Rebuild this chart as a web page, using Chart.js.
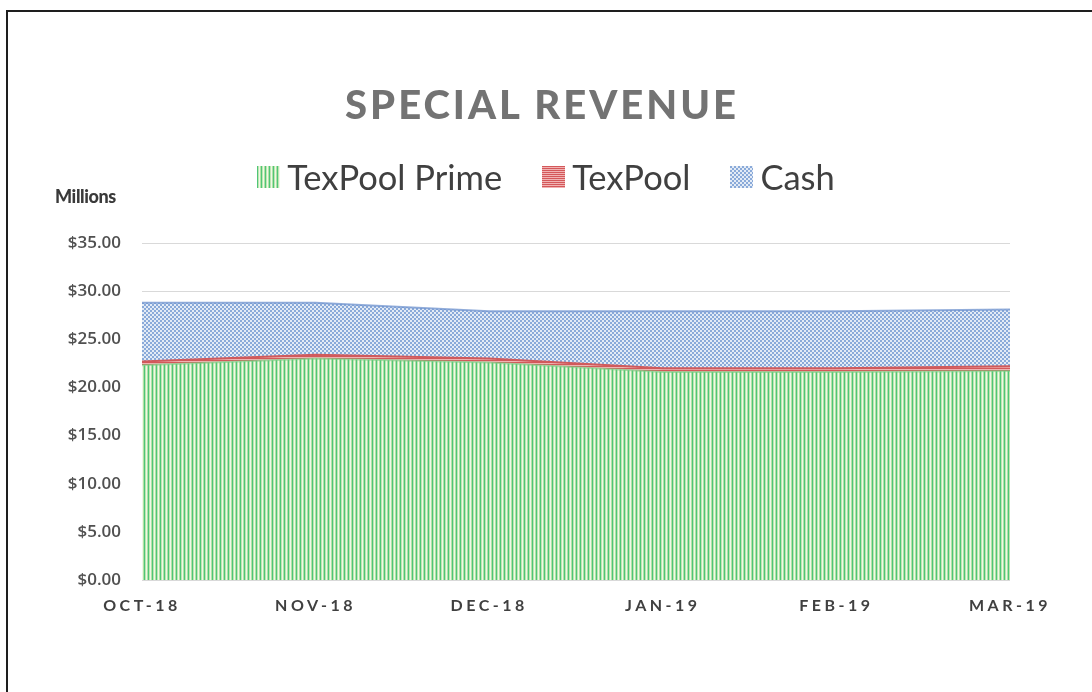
<!DOCTYPE html>
<html>
<head>
<meta charset="utf-8">
<script src="https://cdn.jsdelivr.net/npm/chart.js@4.4.1/dist/chart.umd.min.js"></script>
<style>
  html, body { margin: 0; padding: 0; background: #fff; }
  #wrap { position: relative; width: 1092px; height: 692px; overflow: hidden; font-family: Lato, "Open Sans", sans-serif; }
  #frame { position: absolute; left: 6px; top: 10px; width: 1200px; height: 800px; border-top: 2px solid #1e1e1e; border-left: 2px solid #1e1e1e; }
  #chart { position: absolute; left: 0; top: 0; }
  #title { position: absolute; left: 0; width: 1084px; top: 80px; text-align: center; font-weight: 900; font-size: 40px; letter-spacing: 3px; color: #737373; }
  #legend { position: absolute; left: 0; width: 1092px; top: 156px; display: flex; justify-content: center; align-items: center; font-size: 34.5px; color: #404040; }
  .legend-item { display: flex; align-items: center; margin: 0 20px; }
  .legend-swatch { width: 23px; height: 22px; margin-right: 7px; }
  #units { position: absolute; left: 55px; top: 185px; font-weight: 900; font-size: 18px; letter-spacing: -0.4px; color: #3a3a3a; }
</style>
</head>
<body>
<div id="wrap">
  <div id="frame"></div>
  <canvas id="chart" width="1092" height="692"></canvas>
  <div id="title">SPECIAL REVENUE</div>
  <div id="legend"></div>
  <div id="units">Millions</div>
</div>
<script>
const MONTHS = ["OCT-18", "NOV-18", "DEC-18", "JAN-19", "FEB-19", "MAR-19"];
const TEXPOOL_PRIME = [22.3, 23.0, 22.6, 21.6, 21.6, 21.7];
const TEXPOOL = [0.4, 0.4, 0.4, 0.4, 0.4, 0.5];
const CASH = [6.1, 5.4, 4.9, 5.9, 5.9, 5.9];
const Y_TICKS = [0, 5, 10, 15, 20, 25, 30, 35];

// --- hatch patterns (Excel-like fills) ---
function makePattern(w, h, paint) {
  const c = document.createElement("canvas");
  c.width = w; c.height = h;
  paint(c.getContext("2d"));
  return c;
}

const greenTile = makePattern(4, 4, g => {
  const cols = ["#4fc578", "#bfe6b0", "#eef8e8", "#b2e2a5"];
  cols.forEach((col, i) => { g.fillStyle = col; g.fillRect(i, 0, 1, 4); });
});
const redTile = makePattern(2, 2, g => {
  g.fillStyle = "#d4585a"; g.fillRect(0, 0, 2, 1);
  g.fillStyle = "#f1b3b3"; g.fillRect(0, 1, 2, 1);
});
const blueTile = makePattern(4, 4, g => {
  g.fillStyle = "#e3ebf6"; g.fillRect(0, 0, 4, 4);
  g.fillStyle = "#8aaad9"; g.fillRect(0, 0, 2, 2); g.fillRect(2, 2, 2, 2);
});

const ctx = document.getElementById("chart").getContext("2d");
const fills = [greenTile, redTile, blueTile].map(t => ctx.createPattern(t, "repeat"));

const SERIES = [
  { label: "TexPool Prime", data: TEXPOOL_PRIME, tile: greenTile, fill: fills[0], border: "rgba(120,205,130,0.6)", fillTo: "origin" },
  { label: "TexPool", data: TEXPOOL, tile: redTile, fill: fills[1], border: "#d05a5c", fillTo: "-1" },
  { label: "Cash", data: CASH, tile: blueTile, fill: fills[2], border: "rgba(110,145,205,0.75)", fillTo: "-1" }
];

// HTML legend with the same tiles
document.getElementById("legend").innerHTML = SERIES.map(s =>
  `<div class="legend-item"><div class="legend-swatch" style="background-image:url(${s.tile.toDataURL()})"></div><span>${s.label}</span></div>`
).join("");

// x labels in the reference are spaced out
const spacedXLabels = {
  id: "spacedXLabels",
  beforeDraw(chart) {
    const x = chart.scales.x;
    if (x._spaced) return;
    const orig = x.drawLabels;
    x.drawLabels = function (area) {
      this.ctx.save();
      this.ctx.letterSpacing = "3.5px";
      orig.call(this, area);
      this.ctx.restore();
    };
    x._spaced = true;
  }
};

new Chart(ctx, {
  type: "line",
  data: {
    labels: MONTHS,
    datasets: SERIES.map(s => ({
      label: s.label,
      data: s.data,
      backgroundColor: s.fill,
      borderColor: s.border,
      borderWidth: 2,
      fill: s.fillTo,
      pointRadius: 0,
      tension: 0
    }))
  },
  options: {
    responsive: false,
    animation: false,
    layout: { padding: { top: 243, right: 82, bottom: 72, left: 0 } },
    plugins: { legend: { display: false }, tooltip: { enabled: false } },
    scales: {
      x: {
        offset: false,
        grid: { display: false, drawTicks: false },
        border: { display: false },
        ticks: { color: "#404040", padding: 16, font: { family: "Lato", size: 16, weight: "bold" }, maxRotation: 0 },
        afterFit: s => { s.height = 40; }
      },
      y: {
        stacked: true,
        min: 0,
        max: 35,
        afterBuildTicks: s => { s.ticks = Y_TICKS.map(v => ({ value: v })); },
        grid: { color: "#d9d9d9", drawTicks: false },
        border: { display: false },
        ticks: { color: "#505050", padding: 21, font: { family: "Open Sans", size: 17, weight: "600" }, callback: v => "$" + v.toFixed(2) },
        afterFit: s => { s.width = 142; }
      }
    }
  },
  plugins: [spacedXLabels]
});
</script>
</body>
</html>
